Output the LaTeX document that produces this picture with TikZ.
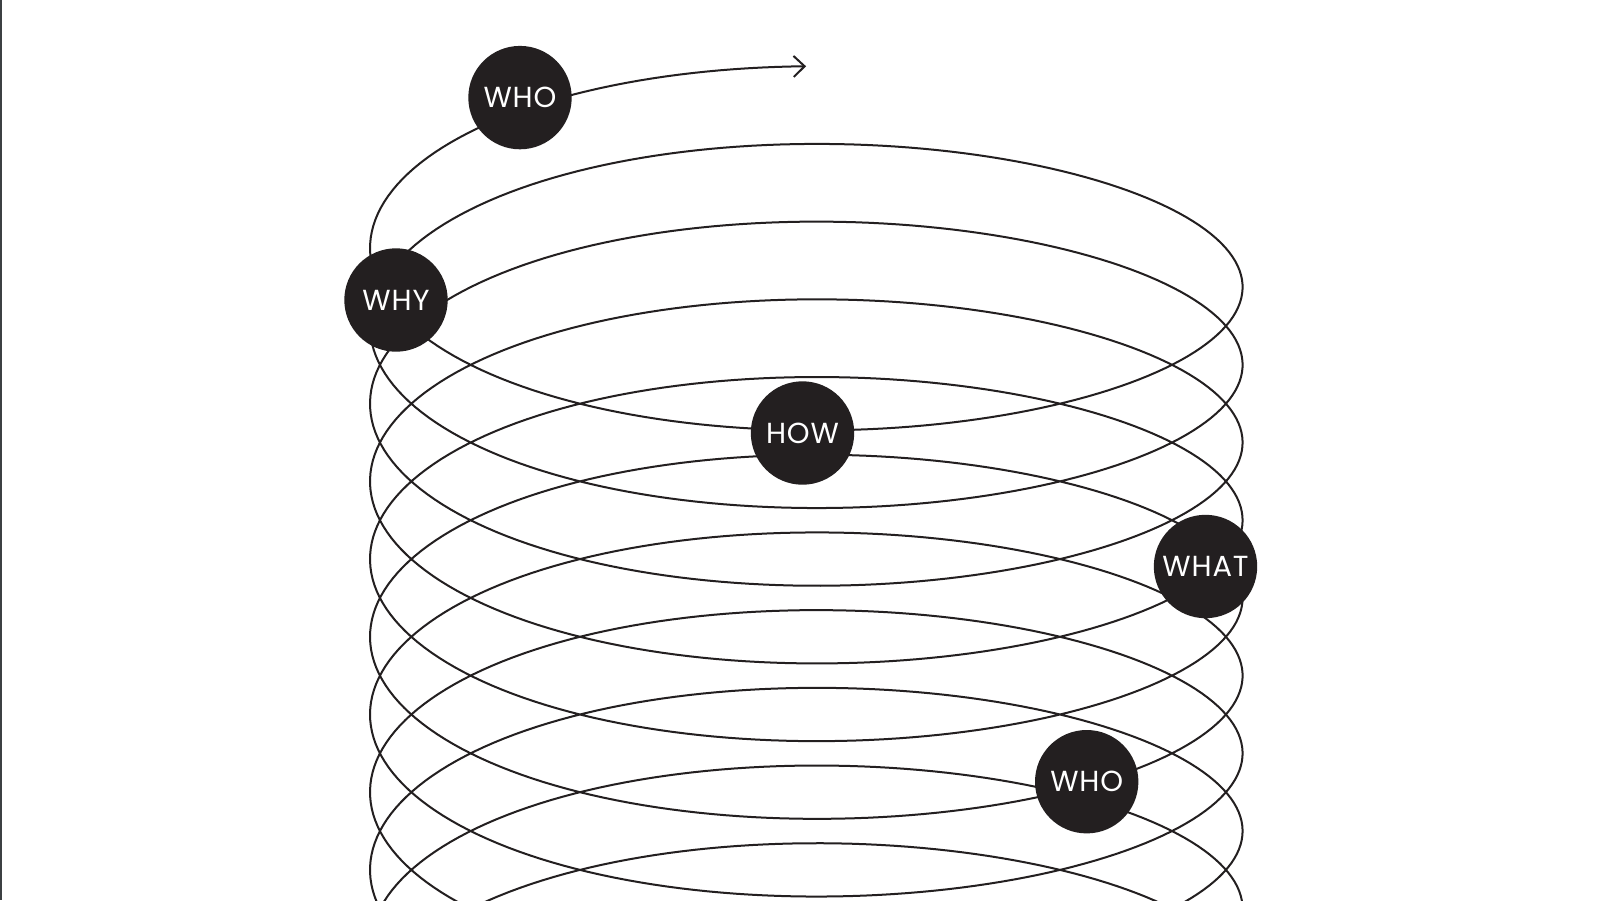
\documentclass[tikz,border=0pt]{standalone}
\usepackage{fontspec}
\setmainfont{Poppins}[LetterSpace=3]
\usetikzlibrary{arrows.meta}
\definecolor{ink}{HTML}{231F20}
\definecolor{edgeline}{HTML}{3C4043}
\begin{document}
\begin{tikzpicture}[x=1pt,y=-1pt,
  helix/.style={line width=2pt, draw=ink, line join=round},
  ball/.style={circle, fill=ink, minimum size=103.4pt, inner sep=0pt, text=white,
    font=\fontsize{29}{29}\selectfont}]
\useasboundingbox (0,0) rectangle (1617,900);
\fill[white] (0,0) rectangle (1617,900);
\begin{scope}
\clip (0,0) rectangle (1617,900);
\draw[helix, -{Straight Barb[length=11pt,width=21pt]}]
  plot[domain=-3960:180, samples=2200]
  ({806.3-436.3*sin(\x)}, {267.7+162.6*cos(\x)-0.215833*\x+4.2*sin(2*\x)});
\end{scope}
\fill[edgeline] (0,0) rectangle (1.8,900);
\node[ball] (whotop) at (520,97.6) {WHO};
\node[ball] (why) at (396,300) {WHY};
\node[ball] (how) at (802.5,433) {HOW};
\node[ball] (what) at (1205.5,566.5) {WHAT};
\node[ball] (whobot) at (1086.7,781.7) {WHO};
\end{tikzpicture}
\end{document}
